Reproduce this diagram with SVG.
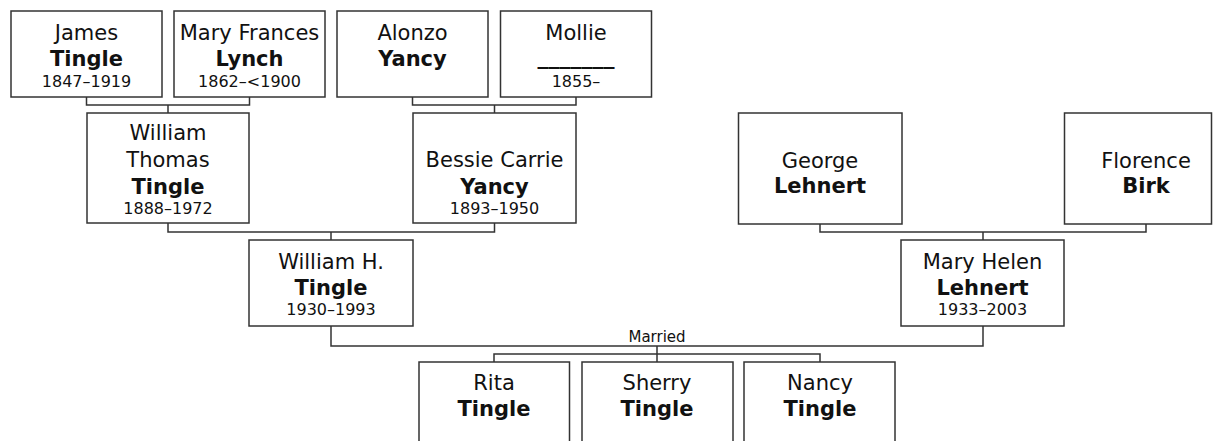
<svg xmlns="http://www.w3.org/2000/svg" width="1214" height="441" viewBox="0 0 1214 441">
<style>
.box{fill:#fff;stroke:#333;stroke-width:1.5}
.ln{fill:none;stroke:#333;stroke-width:1.5}
text{font-family:"DejaVu Sans","Verdana",sans-serif;fill:#111;text-anchor:middle}
.n{font-size:21px}
.s{font-size:21px;font-weight:bold}
.d{font-size:16px}
.m{font-size:15px}
</style>
<rect width="1214" height="441" fill="#fff"/>
<g id="connectors">
<path class="ln" d="M86.5 97V105H249.5V97M168 105V113"/>
<path class="ln" d="M412.5 97V105H576V97M494.5 105V113"/>
<path class="ln" d="M168 223V232H494.5V223M331 232V240"/>
<path class="ln" d="M820 224V232H1146V224M983 232V240"/>
<path class="ln" d="M331 326V346H983V326M657 346V362M494 362V354H820V362"/>
<text class="m" x="657" y="342">Married</text>
</g>
<g id="james">
<rect class="box" x="11" y="11" width="151" height="86"/>
<text class="n" x="86.5" y="39.5">James</text>
<text class="s" x="86.5" y="65.5">Tingle</text>
<text class="d" x="86.5" y="87">1847–1919</text>
</g>
<g id="mary-frances">
<rect class="box" x="174" y="11" width="151" height="86"/>
<text class="n" x="249.5" y="39.5">Mary Frances</text>
<text class="s" x="249.5" y="65.5">Lynch</text>
<text class="d" x="249.5" y="87">1862–&lt;1900</text>
</g>
<g id="alonzo">
<rect class="box" x="337" y="11" width="151" height="86"/>
<text class="n" x="412.5" y="39.5">Alonzo</text>
<text class="s" x="412.5" y="65.5">Yancy</text>
</g>
<g id="mollie">
<rect class="box" x="500.5" y="11" width="151" height="86"/>
<text class="n" x="576" y="39.5">Mollie</text>
<text class="s" x="576" y="63.5" textLength="77" lengthAdjust="spacingAndGlyphs">_______</text>
<text class="d" x="576" y="87">1855–</text>
</g>
<g id="william-thomas">
<rect class="box" x="87" y="113" width="162" height="110"/>
<text class="n" x="168" y="139.5">William</text>
<text class="n" x="168" y="166.5">Thomas</text>
<text class="s" x="168" y="193.5">Tingle</text>
<text class="d" x="168" y="214">1888–1972</text>
</g>
<g id="bessie">
<rect class="box" x="413" y="113" width="163" height="110"/>
<text class="n" x="494.5" y="166.5">Bessie Carrie</text>
<text class="s" x="494.5" y="193.5">Yancy</text>
<text class="d" x="494.5" y="214">1893–1950</text>
</g>
<g id="george">
<rect class="box" x="738.5" y="113" width="163.5" height="111"/>
<text class="n" x="820" y="167.5">George</text>
<text class="s" x="820" y="193">Lehnert</text>
</g>
<g id="florence">
<rect class="box" x="1064.5" y="113" width="147" height="111"/>
<text class="n" x="1146" y="167.5">Florence</text>
<text class="s" x="1146" y="193">Birk</text>
</g>
<g id="william-h">
<rect class="box" x="249" y="240" width="164" height="86"/>
<text class="n" x="331" y="269">William H.</text>
<text class="s" x="331" y="294.5">Tingle</text>
<text class="d" x="331" y="315">1930–1993</text>
</g>
<g id="mary-helen">
<rect class="box" x="901" y="240" width="163" height="86"/>
<text class="n" x="982.5" y="269">Mary Helen</text>
<text class="s" x="982.5" y="294.5">Lehnert</text>
<text class="d" x="982.5" y="315">1933–2003</text>
</g>
<g id="rita">
<rect class="box" x="419" y="362" width="150.5" height="100"/>
<text class="n" x="494" y="390">Rita</text>
<text class="s" x="494" y="415.5">Tingle</text>
</g>
<g id="sherry">
<rect class="box" x="582" y="362" width="151" height="100"/>
<text class="n" x="657" y="390">Sherry</text>
<text class="s" x="657" y="415.5">Tingle</text>
</g>
<g id="nancy">
<rect class="box" x="744" y="362" width="151" height="100"/>
<text class="n" x="820" y="390">Nancy</text>
<text class="s" x="820" y="415.5">Tingle</text>
</g>
</svg>
